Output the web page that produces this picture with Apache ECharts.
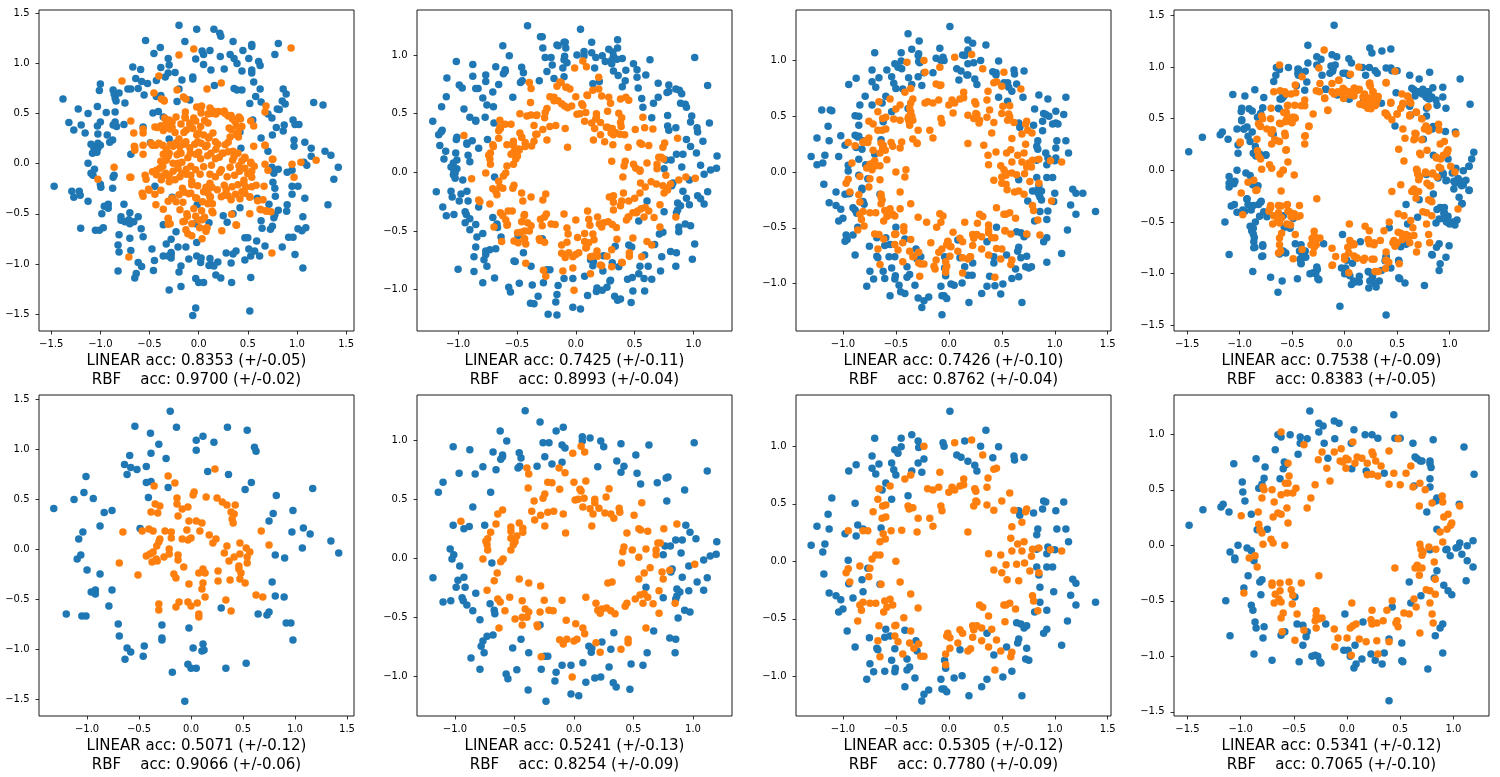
<!DOCTYPE html><html><head><meta charset="utf-8"><style>html,body{margin:0;padding:0;background:#fff}#c{width:1500px;height:777px}</style><script src="https://cdn.jsdelivr.net/npm/echarts@6/dist/echarts.min.js"></script></head><body><div id="c"></div><script>
// Bottom-row panels
const p5Blue=[[-.2,1.38],[-.54,1.23],[-.39,1.16],[-.14,1.22],[.35,1.22],[.54,1.19],[.115,1.13],[.05,1.09],[.22,1.07],[-.31,1.05],[.61,1.02],[.625,.98],[.05,.99],[-.385,.96],[-.59,.94],[-.24,.91],[-.64,.85],[-.58,.82],[-.52,.8],[-.43,.83],[-.615,.75],[.16,.78],[.36,.75],[-1.01,.73],[-.43,.67],[-.385,.68],[-.22,.62],[.58,.67],[.52,.6],[1.17,.61],[.82,.54],[-1.03,.57],[-1.125,.5],[-.94,.51],[-.41,.52],[-1.32,.41],[-.835,.37],[-.76,.39],[.98,.39],[.79,.36],[.75,.285],[-.875,.235],[-.49,.21],[-1.04,.175],[.97,.175],[1.08,.215],[1.145,.155],[-1.08,.105],[1.345,.085],[1.07,.015],[1.42,-.035],[.81,-.055],[.9,-.085],[-1.06,-.055],[-1.095,-.095],[-1,-.205],[-.875,-.245],[.78,-.325],[-.76,-.405],[-.92,-.405],[-.96,-.425],[-.92,-.445],[.81,-.465],[.895,-.475],[-.79,-.565],[.29,-.585],[-1.2,-.645],[-1.05,-.665],[-1.01,-.665],[.645,-.645],[.73,-.655],[.75,-.625],[-.7,-.745],[-.28,-.755],[.915,-.735],[.96,-.735],[-.02,-.785],[-.69,-.865],[-.28,-.885],[-.28,-.905],[.98,-.905],[-.45,-.965],[-.615,-.985],[-.58,-1.025],[-.46,-1.065],[-.635,-1.095],[.02,-.985],[.115,-.945],[.105,-1.015],[.125,-1.005],[.53,-1.135],[-.03,-1.145],[0,-1.185],[.05,-1.185],[-.18,-1.225],[.335,-1.185],[-.06,-1.515]];
const p5Orange=[[.23,.805],[-.22,.735],[-.155,.665],[-.355,.635],[.03,.575],[.02,.545],[.145,.525],[-.135,.515],[-.135,.455],[.25,.515],[.3,.475],[.345,.445],[.425,.445],[-.345,.455],[-.3,.435],[-.03,.425],[-.085,.405],[-.385,.375],[-.32,.365],[.385,.375],[.415,.355],[-.125,.335],[.395,.305],[.405,.265],[-.02,.285],[.05,.285],[.105,.265],[-.405,.205],[-.365,.185],[-.47,.185],[-.655,.175],[-.25,.185],[-.19,.175],[-.04,.195],[.085,.185],[.675,.185],[.175,.145],[-.19,.115],[-.085,.105],[0,.115],[-.03,.095],[.24,.105],[.21,.065],[-.3,.105],[-.31,.075],[-.33,.035],[.47,.065],[.75,.045],[.345,.035],[.53,.015],[-.21,.005],[.565,-.025],[.32,-.035],[-.21,-.045],[-.365,-.025],[-.395,-.045],[-.43,-.065],[-.125,-.055],[.47,-.045],[.54,-.075],[.415,-.075],[-.26,-.075],[-.335,-.095],[-.325,-.115],[-.375,-.125],[-.125,-.105],[.365,-.115],[.54,-.135],[-.69,-.135],[.46,-.165],[-.07,-.175],[.46,-.195],[.115,-.195],[.26,-.215],[.075,-.235],[.135,-.235],[.48,-.235],[-.165,-.245],[-.145,-.285],[-.51,-.255],[.47,-.295],[.375,-.305],[.26,-.315],[.115,-.335],[-.02,-.345],[.52,-.335],[.105,-.395],[.135,-.475],[.625,-.455],[.69,-.475],[.335,-.505],[-.31,-.545],[-.115,-.525],[-.145,-.575],[-.03,-.525],[0,-.565],[.06,-.535],[-.31,-.605],[.385,-.615],[.075,-.645],[.075,-.675]];
const p6Blue=[[-.41,1.25],[-.285,1.155],[-.62,1.08],[-.15,1.08],[-.09,1.11],[.07,1.03],[.07,.995],[.135,1.02],[.225,.995],[.25,.945],[-.565,.995],[-.26,.98],[-.21,.98],[-.1,.96],[-.075,.935],[.395,.97],[.63,.96],[1.01,.98],[-1.015,.945],[-.875,.92],[-.68,.9],[-.46,.895],[-.6,.875],[-.6,.86],[-.615,.84],[-.445,.85],[-.245,.86],[.52,.875],[-.1,.815],[-.185,.8],[.36,.825],[.42,.78],[.395,.73],[.2,.775],[-.31,.78],[-.455,.78],[-.47,.765],[-.765,.775],[-.655,.75],[-.965,.72],[-.83,.715],[.53,.72],[1.12,.74],[.79,.69],[.775,.68],[-1.1,.645],[.7,.64],[.56,.63],[-1.14,.56],[-.7,.56],[.93,.58],[.78,.485],[-.85,.435],[-1.015,.28],[-.75,.28],[-.925,.25],[-.88,.27],[.94,.28],[.975,.22],[1.025,.165],[1.2,.14],[.855,.155],[.91,.155],[.765,.105],[.81,.105],[.9,.045],[.75,.03],[1.195,.035],[1.145,.02],[1.09,-.015],[-1.04,.08],[-1.01,.03],[-1.025,-.005],[-.96,-.065],[-.69,-.04],[.965,-.065],[.825,-.09],[.815,-.115],[.91,-.16],[1.035,-.2],[1.12,-.165],[-1.185,-.165],[-.975,-.185],[-.925,-.16],[-.99,-.245],[-.915,-.245],[.605,-.245],[.865,-.26],[.89,-.285],[.965,-.275],[1.09,-.27],[-.825,-.295],[.865,-.32],[.855,-.345],[.75,-.335],[-.94,-.335],[-.93,-.36],[-1.1,-.37],[-1.035,-.36],[-.9,-.395],[-.705,-.385],[-.85,-.445],[-.67,-.44],[-.665,-.47],[.93,-.44],[.975,-.455],[.875,-.505],[-.79,-.52],[-.285,-.565],[-.73,-.66],[-.68,-.65],[-.765,-.7],[-.78,-.745],[-.755,-.8],[-.445,-.685],[-.515,-.76],[-.38,-.8],[-.865,-.845],[-.79,-.94],[-.57,-.98],[-.555,-1.02],[-.48,-.945],[-.275,-.94],[-.245,-.83],[-.22,-.83],[-.385,-1.115],[-.235,-1.21],[-.16,-1.04],[-.15,-.965],[-.1,-.905],[-.025,-.905],[.075,-.885],[-.025,-1.15],[.04,-1.165],[.1,-1.05],[.175,-1.015],[.225,-1.005],[.295,-.92],[.33,-1.055],[.355,-1.09],[.47,-1.11],[.48,-.895],[.58,-.905],[.615,-.8],[.31,-.77],[.235,-.71],[.335,-.63],[.125,-.745],[.15,-.76],[.145,-.795],[.67,-.615],[.805,-.675],[.855,-.685],[.85,-.8]];
const p6Orange=[[.06,.95],[-.01,.89],[.09,.9],[-.395,.765],[-.38,.715],[-.125,.765],[-.075,.725],[-.22,.645],[-.185,.64],[0,.645],[.1,.655],[-.385,.595],[-.12,.585],[.05,.585],[.06,.57],[.295,.59],[-.245,.545],[-.26,.51],[-.335,.485],[.01,.495],[.035,.5],[.085,.51],[.27,.52],[.175,.5],[.175,.47],[.57,.47],[.135,.42],[.21,.425],[.075,.435],[.38,.425],[.385,.39],[-.6,.41],[-.64,.375],[-.355,.4],[-.22,.39],[-.17,.4],[-.09,.375],[-.28,.365],[.16,.375],[.26,.385],[.31,.375],[.335,.34],[.505,.365],[-.33,.325],[-.655,.29],[-.95,.315],[-.46,.3],[-.245,.275],[.15,.275],[.865,.29],[-.53,.265],[-.43,.255],[.755,.25],[.545,.25],[.56,.24],[.62,.23],[-.53,.23],[-.43,.22],[-.7,.22],[.445,.215],[-.07,.215],[-.48,.19],[-.725,.165],[-.53,.17],[-.74,.145],[-.495,.14],[.705,.13],[.725,.13],[-.73,.115],[-.51,.115],[.42,.095],[-.53,.07],[-.725,.07],[.49,.07],[.605,.08],[.69,.07],[.41,.055],[.69,.03],[.545,.01],[-.765,-.005],[-.595,-.005],[-.615,-.03],[.4,-.04],[1.015,-.05],[.64,-.08],[-.645,-.125],[.59,-.125],[.74,-.115],[.805,-.1],[.545,-.175],[.75,-.175],[-.46,-.175],[-.67,-.19],[-.38,-.21],[.32,-.2],[.285,-.21],[-.28,-.235],[-.73,-.27],[.715,-.275],[-.54,-.33],[-.64,-.345],[-.62,-.37],[-.435,-.36],[-.25,-.355],[-.1,-.355],[.1,-.33],[.515,-.345],[.555,-.31],[.59,-.3],[.62,-.33],[.185,-.38],[.58,-.38],[.665,-.385],[.445,-.38],[.43,-.405],[.85,-.38],[-.58,-.445],[-.41,-.43],[-.38,-.455],[-.285,-.455],[-.21,-.44],[-.175,-.445],[.2,-.44],[.235,-.43],[.275,-.42],[.22,-.465],[.31,-.445],[.345,-.47],[.715,-.465],[-.495,-.515],[-.435,-.5],[-.395,-.5],[-.065,-.525],[-.435,-.565],[.015,-.555],[-.31,-.565],[-.305,-.58],[-.63,-.59],[.075,-.59],[.605,-.59],[.09,-.64],[-.12,-.69],[-.06,-.685],[-.09,-.725],[.025,-.685],[0,-.7],[.185,-.715],[.455,-.685],[.455,-.715],[.395,-.77],[.22,-.795],[-.275,-.835],[-.015,-1.005]];
const p7Blue=[[.01,1.305],[.35,1.14],[-.35,1.1],[-.7,1.07],[-.45,1.07],[-.29,1.045],[.15,1.045],[-.055,1.03],[-.045,1],[.3,1],[.47,.995],[-.285,.99],[-.45,.995],[-.51,.97],[-.48,.94],[.075,.925],[.115,.905],[-.725,.915],[.615,.915],[.71,.905],[.62,.88],[.415,.9],[-.235,.89],[.18,.87],[-.54,.855],[-.29,.855],[-.66,.845],[-.875,.84],[.245,.835],[-.725,.81],[-.52,.795],[-.945,.785],[-.35,.785],[-.255,.775],[.265,.785],[-.69,.76],[-.5,.75],[-.595,.68],[-.63,.62],[-1.105,.55],[-.385,.57],[-.54,.54],[-.885,.505],[.895,.525],[.915,.515],[1.085,.515],[.885,.455],[1.01,.44],[.66,.44],[.67,.4],[.8,.42],[-1.14,.41],[-.86,.315],[-.81,.28],[-1.245,.305],[-1.13,.28],[-.64,.29],[.84,.28],[1.02,.28],[1.105,.28],[-.98,.24],[-.875,.22],[.83,.23],[1.13,.17],[-1.3,.14],[-1.17,.15],[-1.19,.08],[.935,.125],[1,.1],[.83,.105],[.925,.065],[-.95,.01],[-.765,-.06],[.83,-.05],[.925,-.05],[.98,-.05],[.85,-.12],[-1.18,-.11],[-.82,-.16],[-.945,-.195],[-.65,-.2],[1.17,-.155],[1.2,-.19],[.86,-.225],[-.81,-.265],[.99,-.265],[-1.13,-.275],[-1.065,-.3],[-1.02,-.335],[-.905,-.32],[1.15,-.295],[.86,-.355],[1.385,-.355],[1.2,-.38],[-1,-.415],[-1.04,-.44],[.925,-.425],[.81,-.44],[1.12,-.52],[.64,-.535],[.68,-.545],[.71,-.58],[.735,-.56],[.925,-.59],[.895,-.625],[-.595,-.59],[-.415,-.6],[-.96,-.605],[.36,-.625],[-.605,-.66],[-.555,-.65],[-.75,-.665],[.66,-.675],[.65,-.71],[-.31,-.69],[.545,-.745],[1.065,-.73],[-.885,-.745],[-.68,-.755],[-.67,-.77],[-.51,-.76],[.735,-.755],[.105,-.77],[-.3,-.78],[.425,-.815],[-.54,-.86],[-.395,-.85],[-.04,-.86],[.725,-.85],[.755,-.86],[-.745,-.89],[-.03,-.93],[-.505,-.93],[-.37,-.92],[-.395,-.945],[-.71,-.96],[-.605,-.955],[-.51,-.96],[.595,-.955],[-.775,-1.025],[-.32,-1.015],[-.075,-1.025],[.05,-1.015],[.125,-.995],[.36,-1.025],[.51,-1.005],[-.415,-1.09],[.31,-1.09],[-.19,-1.12],[-.065,-1.11],[-.045,-1.11],[-.02,-1.135],[-.235,-1.155],[.19,-1.17],[.69,-1.17],[-.255,-1.215]];
const p7Orange=[[.055,1.03],[.215,1.055],[-.235,1],[.32,.925],[.425,.8],[.45,.81],[-.085,.775],[-.36,.75],[-.415,.715],[.37,.725],[.14,.715],[-.555,.655],[-.66,.63],[.14,.665],[.105,.655],[.03,.645],[.36,.645],[-.095,.645],[-.2,.63],[-.15,.62],[.245,.63],[.255,.61],[.055,.62],[0,.6],[.575,.595],[-.67,.54],[.255,.525],[.265,.515],[.235,.48],[.5,.525],[.36,.49],[-.595,.49],[-.625,.48],[-.385,.48],[-.075,.48],[-.34,.465],[-.375,.455],[.615,.445],[.425,.445],[.735,.455],[.725,.43],[-.065,.44],[-.715,.43],[-.595,.385],[-.63,.375],[-.29,.375],[-.18,.375],[.69,.34],[.595,.3],[-.15,.305],[-.95,.265],[-.81,.265],[-.765,.265],[-.545,.265],[-.445,.27],[-.3,.255],[.18,.255],[-.62,.24],[-.6,.195],[.585,.2],[-.65,.17],[.71,.17],[.65,.15],[.85,.115],[.79,.105],[.96,.1],[1.065,.09],[.595,.09],[.69,.09],[.375,.065],[.49,.055],[.78,.045],[-.69,.055],[-.65,.055],[-.725,.02],[-.5,0],[.715,-.015],[.54,-.03],[.64,-.025],[-.84,-.04],[-.745,-.06],[-.95,-.065],[-.97,-.1],[.425,-.075],[.765,-.085],[.5,-.1],[.85,-.1],[-.755,-.135],[.55,-.16],[.66,-.17],[-.935,-.18],[-.46,-.18],[-.64,-.2],[-.36,-.285],[.79,-.3],[.8,-.345],[-.555,-.33],[-.605,-.345],[-.81,-.355],[-.745,-.365],[-.69,-.365],[-.84,-.38],[-.53,-.38],[.575,-.365],[.52,-.38],[.54,-.38],[.29,-.38],[.32,-.4],[.63,-.415],[-.29,-.405],[-.825,-.425],[-.585,-.4],[-.615,-.44],[.84,-.43],[.375,-.475],[-.425,-.49],[-.86,-.52],[.53,-.525],[-.5,-.555],[-.51,-.56],[-.66,-.56],[.225,-.56],[.265,-.56],[.31,-.58],[.235,-.595],[.405,-.59],[-.36,-.605],[.105,-.595],[.13,-.625],[-.01,-.625],[-.02,-.65],[.01,-.665],[-.51,-.65],[.225,-.66],[-.67,-.69],[-.48,-.7],[.45,-.685],[.31,-.69],[.085,-.71],[-.37,-.71],[-.285,-.72],[.375,-.745],[.01,-.755],[-.33,-.755],[.205,-.76],[.18,-.78],[.49,-.78],[.595,-.79],[-.03,-.805],[-.435,-.805],[-.65,-.83],[-.265,-.825],[-.235,-.825],[.585,-.83],[-.03,-.9],[.435,-.945]];
const p8Blue=[[-.35,1.21],[.44,1.175],[-.12,1.12],[-.075,1.1],[-.265,1.1],[-.225,1.075],[-.265,1.02],[.065,1.04],[-.65,.995],[-.62,.975],[-.535,.995],[-.44,.975],[-.375,.96],[-.44,.92],[-.115,.96],[.17,.995],[.235,.995],[.29,.965],[.45,.965],[.5,.965],[.04,.92],[-.215,.92],[.62,.92],[.81,.95],[1.1,.885],[-.675,.86],[-.46,.82],[-.855,.78],[-1.065,.735],[-.77,.705],[-.59,.75],[-.575,.725],[-.18,.785],[.64,.795],[.66,.78],[.69,.76],[.705,.76],[.78,.76],[.78,.735],[.79,.7],[-.6,.69],[.045,.69],[.18,.67],[.35,.65],[1.195,.64],[-.78,.605],[-.63,.6],[.78,.6],[-.985,.57],[-.8,.55],[-.83,.515],[.63,.535],[.78,.525],[-.98,.48],[-.96,.4],[.845,.425],[.835,.4],[1.055,.37],[-1.165,.37],[-1.185,.345],[-1.355,.32],[-1.11,.3],[.75,.3],[-.9,.28],[-1.485,.18],[-.845,.14],[-.75,.145],[.845,.145],[-1.025,0],[1.185,.04],[1.06,.02],[1.045,-.015],[1.025,-.025],[1.13,-.005],[-.94,-.025],[-.9,-.05],[-1.1,-.06],[.78,-.04],[.93,-.04],[.94,-.035],[1.08,-.08],[.97,-.095],[-1.055,-.115],[-1.055,-.13],[-.875,-.14],[1.13,-.14],[1.185,-.195],[.845,-.23],[-.93,-.275],[.585,-.33],[.82,-.295],[-.8,-.31],[-.82,-.33],[1.12,-.32],[.91,-.36],[-.97,-.385],[.95,-.41],[.985,-.445],[-.81,-.445],[-.49,-.465],[.695,-.455],[-1.14,-.5],[.6,-.52],[-.9,-.54],[-.885,-.585],[.425,-.555],[-.02,-.62],[-.865,-.69],[-.47,-.71],[-.415,-.72],[.15,-.69],[-.2,-.71],[.9,-.71],[-.855,-.745],[-.78,-.735],[.875,-.745],[-.375,-.78],[-.385,-.825],[-.62,-.81],[-.585,-.78],[-1.1,-.815],[-.79,-.835],[.83,-.815],[.395,-.845],[.515,-.88],[.075,-.9],[-.415,-.9],[-.03,-.945],[.01,-.945],[-.875,-.98],[.9,-.97],[-.33,-1],[-.3,-.99],[-.275,-1],[.225,-.98],[.35,-.97],[.03,-1],[-.705,-1.035],[.14,-1.025],[.265,-1.035],[-.45,-1.05],[-.255,-1.05],[-.245,-1.06],[.515,-1.04],[.525,-1.05],[.33,-1.07],[.085,-1.07],[.065,-1.105],[.76,-1.115],[.395,-1.4]];
const p8Orange=[[-.62,1.02],[-.405,.905],[.055,.93],[.48,.96],[.395,.85],[-.235,.84],[-.12,.84],[-.055,.87],[.235,.84],[.245,.815],[.095,.795],[.14,.785],[-.065,.76],[-.01,.785],[-.27,.77],[.01,.77],[.19,.74],[.27,.76],[-.555,.74],[-.04,.75],[.075,.74],[-.01,.695],[-.19,.695],[.32,.715],[.6,.715],[.44,.65],[.555,.65],[.19,.635],[.235,.64],[.29,.625],[-.545,.625],[-.16,.58],[-.58,.56],[-.555,.56],[-.3,.545],[.395,.55],[.5,.545],[.685,.56],[.62,.525],[-.79,.525],[-.705,.5],[-.78,.5],[-.48,.515],[.735,.5],[-.51,.47],[-.565,.47],[-.62,.455],[-.8,.425],[-.34,.425],[.895,.445],[-.685,.39],[.8,.38],[.9,.39],[.68,.355],[-.565,.335],[-.375,.335],[1.06,.355],[-.835,.3],[-.65,.29],[-.62,.28],[-.695,.255],[-.995,.265],[.95,.28],[.91,.255],[-.83,.19],[-.555,.2],[.985,.2],[.975,.18],[.94,.145],[.875,.12],[-.82,.14],[-.8,.11],[-.715,.055],[-.695,.02],[-.79,.01],[-.585,0],[.9,.03],[.685,.01],[.695,-.035],[.77,-.015],[.835,-.035],[.715,-.06],[.705,-.09],[-.92,-.115],[-.865,-.095],[.82,-.15],[-.845,-.195],[.66,-.18],[.67,-.205],[.64,-.205],[.705,-.205],[.45,-.205],[.68,-.27],[-.265,-.275],[.83,-.305],[-.705,-.34],[-.705,-.36],[-.63,-.34],[-.545,-.33],[-.43,-.34],[.745,-.4],[.78,-.41],[.83,-.44],[-.97,-.43],[-.525,-.4],[-.63,-.41],[-.675,-.44],[-.51,-.45],[-.64,-.485],[-.62,-.51],[-.685,-.52],[-.515,-.53],[.045,-.52],[.425,-.5],[.63,-.485],[.78,-.52],[.65,-.555],[.235,-.585],[-.29,-.59],[.375,-.585],[-.6,-.61],[-.47,-.62],[.535,-.61],[.585,-.62],[.8,-.62],[-.62,-.655],[-.29,-.635],[-.235,-.655],[-.3,-.68],[-.265,-.665],[.225,-.67],[.34,-.68],[.47,-.68],[.235,-.71],[.28,-.7],[.46,-.7],[.81,-.7],[.48,-.735],[.085,-.71],[.055,-.725],[.03,-.745],[-.29,-.745],[-.12,-.755],[-.405,-.765],[-.61,-.78],[.685,-.79],[-.085,-.835],[0,-.835],[.115,-.845],[-.49,-.855],[.18,-.87],[.28,-.86],[.395,-.87],[-.115,-.915],[.29,-.98],[.04,-.99]];
// Points that appear only in the top-row panels
const p1BlueExtra=[[-.02,1.34],[.155,1.34],[.215,1.3],[.225,1.27],[.54,1.17],[.81,1.2],[-.455,1.1],[.035,1.125],[.32,1.09],[.36,1.05],[.45,1.13],[.775,1.09],[-.03,1.045],[.51,1.05],[.39,1],[-.3,.985],[-.67,.965],[.125,.935],[.26,.945],[.44,.925],[.54,.935],[.54,.905],[-.31,.905],[-.34,.865],[-.06,.865],[-.06,.845],[-.17,.835],[.56,.815],[-1,.795],[-.72,.745],[-.69,.745],[-.87,.735],[-.2,.745],[.39,.735],[.44,.735],[.625,.745],[.86,.745],[-.81,.705],[-.86,.695],[-.555,.685],[.89,.695],[-1.38,.645],[-.85,.655],[-.84,.625],[-.09,.635],[.635,.615],[.85,.625],[.88,.595],[1.265,.585],[-.75,.605],[-1.225,.545],[.8,.545],[-.85,.515],[-.465,.505],[.705,.495],[.745,.455],[-.36,.465],[.96,.435],[-.85,.415],[-.87,.385],[-1,.415],[-1.03,.375],[-1.195,.385],[-1.27,.335],[-1.155,.305],[-.565,.365],[.55,.435],[1.02,.39],[.87,.385],[.86,.325],[-1.025,.295],[-.93,.285],[-.905,.215],[-1.095,.195],[-1.025,.205],[-1,.185],[-1.065,.155],[-1.025,.155],[-1.035,.115],[-.69,.095],[-.3,.245],[.42,.315],[.635,.255],[.43,.155],[.705,.125],[.97,.235],[1.145,.075],[1.285,.125],[1.1,-.015],[1.375,-.155],[.95,-.065],[.745,-.035],[.755,-.075],[.765,-.095],[-1.125,.005],[-1.075,-.115],[-.86,-.115],[-.87,-.135],[-.995,-.235],[-1.47,-.225],[-1.29,-.275],[-1.215,-.275],[-1.27,-.335],[-1.205,-.315],[-1.125,-.375],[-.445,-.225],[-.27,-.335],[.755,-.185],[.775,-.245],[.95,-.225],[1.01,-.225],[.95,-.305],[1.08,-.345],[.595,-.345],[.715,-.405],[.9,-.41],[1.315,-.41],[-.015,-.41],[.42,-.44],[-.985,-.5],[-.7,-.49],[-.615,-.53],[-.79,-.53],[-.66,-.58],[-.71,-.56],[-.75,-.58],[-.7,-.6],[.25,-.52],[.35,-.5],[.105,-.59],[-.03,-.6],[-.36,-.61],[-.585,-.65],[-.97,-.64],[.635,-.57],[.765,-.54],[.775,-.51],[1.06,-.53],[1.01,-.65],[1.05,-.67],[1.09,-.64],[-.81,-.71],[-.23,-.68],[-.565,-.73],[.47,-.74],[.5,-.74],[.59,-.77],[-.33,-.8],[-.82,-.81],[-.81,-.88],[-.475,-.85],[-.13,-.83],[-.21,-.83],[.51,-.85],[.675,-.82],[.85,-.83],[.57,-.87],[.38,-.87],[.35,-.9],[.28,-.89],[.62,-.92],[.53,-.92],[-.36,-.92],[-.28,-.94],[-.31,-.92],[.47,-.96],[-.1,-.95],[-.02,-.92],[.025,-.94],[.195,-.98],[.33,-.99],[.155,-1.02],[-.18,-1.02],[1.06,-1.04],[-.82,-1.07],[-.2,-1.08],[-.65,-1.14],[.175,-1.11],[.225,-1.14],[-.3,-1.26],[-.03,-1.44],[.52,-1.47]];
const p1OrangeExtra=[[.94,1.155],[-.05,1.145],[-.2,1.085],[-.405,.875],[-.78,.825],[.085,.745],[-.455,.705],[-.38,.645],[-.35,.625],[-.13,.645],[.685,.575],[.675,.515],[-.02,.565],[.115,.555],[-.69,.425],[.26,.525],[.41,.465],[.53,.425],[.56,.375],[-.66,.305],[-.565,.305],[-.565,.345],[-.445,.365],[-.385,.375],[-.27,.415],[-.33,.425],[-.23,.465],[-.14,.465],[-.05,.455],[.095,.405],[.025,.505],[.095,.495],[.175,.495],[-.18,.395],[-.09,.395],[-.29,.345],[.145,.305],[.1,.255],[.31,.355],[.4,.305],[.32,.265],[0,.305],[-.2,.245],[.56,.175],[.675,.185],[.755,.045],[-.485,.205],[-.565,.185],[-.65,.165],[-.565,.095],[-.65,.135],[-.435,.185],[-.26,.175],[-.18,.105],[-.15,.195],[.025,.205],[.195,.195],[.3,.215],[.4,.105],[.47,.055],[.35,.125],[.25,.105],[.125,.105],[-.36,.095],[-.385,.025],[-.26,.005],[-.17,.015],[-.08,-.025],[.13,-.015],[.53,.005],[.675,-.005],[.95,-.005],[1.04,.015],[1.195,.035],[.705,-.065],[.97,-.135],[-.86,-.035],[-1.025,-.155],[-.7,-.135],[-.545,-.115],[-.535,-.155],[.015,-.105],[.215,-.085],[.115,-.105],[-.08,-.115],[-.3,-.115],[-.17,-.095],[.585,-.215],[.665,-.225],[-.505,-.265],[-.575,-.295],[-.565,-.325],[-.445,-.305],[-.385,-.265],[-.27,-.345],[-.31,-.375],[-.36,-.455],[-.435,-.41],[-.16,-.385],[-.08,-.295],[.115,-.215],[.095,-.295],[.095,-.4],[.3,-.32],[.42,-.35],[.52,-.33],[.6,-.37],[.655,-.36],[.635,-.46],[.685,-.47],[.735,-.48],[.52,-.5],[.145,-.49],[-.19,-.46],[-.31,-.55],[-.16,-.58],[-.29,-.6],[.035,-.56],[.38,-.61],[.085,-.64],[.235,-.67],[-.13,-.66],[-.11,-.7],[-.07,-.72],[.035,-.75],[.745,-.89],[-.71,-.93],[-.42,.36],[-.36,.33],[-.27,.36],[-.24,.31],[-.15,.31],[-.06,.35],[.02,.37],[.06,.43],[.13,.5],[.2,.52],[.27,.5],[.33,.48],[.37,.42],[.44,.37],[.33,.34],[.38,.29],[.27,.19],[.17,.22],[.07,.17],[-.01,.22],[-.09,.16],[-.13,.22],[-.23,.21],[-.29,.19],[-.33,.14],[-.22,.09],[-.11,.06],[.02,.05],[.09,.08],[.17,.05],[.3,.12],[.36,.07],[.44,.03],[.41,-.02],[.5,-.1],[.29,-.13],[.23,-.06],[.17,-.13],[.05,-.03],[-.03,-.06],[-.19,-.13],[-.24,-.16],[-.3,-.18],[-.38,-.16],[-.43,-.11],[-.47,-.08],[-.07,-.21],[-.01,-.22],[.05,-.28],[.12,-.33],[.19,-.26],[.28,-.26],[.34,-.23],[.4,-.21],[.54,-.23],[.44,-.28],[.33,-.36],[.23,-.33],[.14,-.4],[.04,-.38],[-.03,-.34],[-.1,-.3],[-.2,-.31],[-.23,-.38],[-.05,-.45],[.03,-.47],[-.12,-.5],[-.07,-.6],[.01,-.64]];
const p2BlueExtra=[[.04,1.22],[-.3,1.155],[.355,1.13],[-.1,1.11],[.135,1.11],[-.16,1.085],[-.085,1.06],[-.28,1.06],[.28,1.05],[.355,1.06],[.01,1],[.315,1.025],[.32,.99],[-.095,.99],[.17,.98],[.305,.955],[.35,.965],[-.2,.915],[.305,.925],[.49,.925],[.16,.89],[-.11,.89],[.425,.87],[.32,.865],[-.875,.82],[-1.095,.805],[-.765,.83],[.52,.81],[.595,.83],[.145,.755],[.7,.76],[-.99,.745],[.79,.745],[-.85,.715],[.85,.71],[.88,.7],[.9,.67],[-.705,.685],[-.79,.635],[-.535,.64],[.66,.59],[.57,.555],[-.755,.575],[.89,.59],[.94,.555],[-.95,.54],[.985,.48],[-.9,.47],[-.85,.445],[-.77,.47],[.645,.465],[-.695,.42],[.975,.43],[1.135,.42],[-1.215,.435],[-1.135,.36],[-1.145,.345],[-1.165,.32],[.78,.395],[.79,.36],[.85,.38],[1.03,.38],[1.035,.345],[-1.01,.3],[-.925,.24],[-1.155,.23],[-.825,.205],[1.08,.265],[-1.105,.18],[-1.02,.165],[-.915,.145],[-1.12,.115],[-1.01,.105],[-.9,.09],[-1.06,.045],[1.06,.06],[-1.035,.005],[-1.04,-.02],[-1.025,-.05],[-1.06,-.16],[-1.05,-.21],[-1.13,-.295],[-.94,-.43],[-.9,-.49],[-.84,-.55],[-.85,-.635],[-.865,-.72],[-.765,-.67],[-1,-.825],[-.69,-.9],[-.635,-.55],[-.49,-.54],[-.525,-.755],[-.37,-.96],[-.32,-1.055],[-.355,-1.12],[-.16,-1.215],[-.17,-1.105],[.18,-.985],[.265,-.98],[.29,-.925],[.38,-1.08],[.44,-.91],[.485,-1.01],[.535,-.865],[.585,-1.01],[.645,-.91],[.72,-.84],[.545,-.8],[.73,-.72],[.99,-.74],[1.01,-.61],[.74,-.51],[.71,-.525],[.875,-.465],[.94,-.22],[1.06,-.225],[.535,-.415],[.585,-.705],[.45,-.62],[.475,-.635],[.365,-.805],[.23,-.84]];
const p2OrangeExtra=[[.195,.81],[-.135,.77],[-.16,.735],[-.085,.725],[-.05,.71],[.145,.7],[.195,.71],[.095,.66],[.22,.65],[.28,.64],[.38,.625],[.425,.64],[.45,.615],[-.185,.61],[-.15,.61],[-.095,.565],[-.07,.55],[-.035,.565],[-.475,.5],[-.415,.48],[-.38,.49],[-.33,.49],[-.265,.465],[-.645,.445],[-.55,.41],[-.655,.355],[-.645,.385],[.17,.455],[.27,.385],[.365,.505],[.39,.465],[.585,.38],[.655,.37],[.21,.32],[.3,.335],[.32,.32],[.375,.325],[.415,.32],[-.34,.325],[-.475,.335],[-.46,.3],[-.705,.235],[-.585,.235],[-.355,.265],[-.375,.225],[.245,.26],[.315,.235],[-.55,.155],[-.485,.2],[.74,.215],[.745,.115],[.305,.095],[.51,.035],[.545,.02],[-.585,.055],[.765,-.025],[.935,-.04],[.875,-.065],[-.885,-.055],[.55,-.09],[.685,-.1],[-.655,-.075],[-.525,-.11],[-.62,-.135],[-.705,-.14],[-.68,-.16],[-.535,-.135],[-.255,-.185],[-.45,-.245],[-.825,-.235],[-.815,-.25],[.77,-.135],[.78,-.15],[.405,-.175],[.5,-.22],[.45,-.245],[.39,-.245],[.32,-.255],[.38,-.285],[.32,-.32],[.11,-.4],[0,-.405],[-.265,-.38],[.485,-.345],[.45,-.38],[.525,-.33],[-.575,-.33],[-.595,-.405],[-.44,-.37],[-.46,-.42],[-.3,-.4],[-.585,-.45],[-.695,-.465],[.12,-.45],[-.075,-.475],[-.465,-.51],[-.525,-.585],[-.49,-.6],[-.425,-.61],[-.44,-.57],[-.265,-.595],[.075,-.52],[.145,-.525],[.155,-.575],[.11,-.6],[-.075,-.595],[-.12,-.62],[.085,-.645],[.35,-.57],[.485,-.56],[.645,-.62],[.305,-.66],[.18,-.67],[.145,-.715],[.125,-.72],[.265,-.715],[-.025,-.72],[.56,-.72],[.39,-.765],[.21,-.79],[.305,-.805],[-.425,-.775],[-.11,-.84],[-.025,-.815],[.125,-.865],[-.255,-.885]];
const p3BlueExtra=[[-.385,1.24],[-.28,1.175],[.18,1.185],[.225,1.155],[-.085,1.11],[.18,1.095],[.13,1.05],[-.285,1.06],[-.12,1.02],[-.075,1],[.18,.97],[.235,.98],[-.275,.98],[-.585,.915],[.445,.89],[.445,.87],[-.15,.89],[-.445,.925],[.17,.87],[-.38,.845],[.095,.825],[.52,.8],[.555,.8],[.565,.76],[.64,.79],[.595,.725],[-.435,.745],[.47,.67],[.7,.67],[.85,.69],[.935,.655],[1.105,.67],[-.79,.68],[.555,.635],[-.84,.6],[-.725,.6],[-1.2,.555],[-1.12,.555],[.81,.565],[1.01,.545],[-.85,.5],[.945,.5],[-.62,.45],[-.85,.42],[.98,.43],[1.03,.43],[.885,.37],[-.885,.33],[-.85,.32],[-1.02,.325],[-.82,.205],[.84,.205],[1.01,.215],[-.7,.16],[-1.04,.14],[-.85,.115],[.915,.17],[1.01,.125],[-1.245,.065],[-.95,.06],[-.785,.065],[-.85,-.03],[.66,-.07],[-1.065,-.18],[-.98,-.2],[-.82,-.145],[.79,-.17],[.82,-.17],[.875,-.17],[.85,-.2],[1,-.19],[-.935,-.19],[1.265,-.19],[.875,-.25],[.745,-.26],[-.8,-.29],[-.885,-.34],[-.87,-.37],[.935,-.35],[.45,-.495],[-.5,-.495],[-.86,-.495],[-.97,-.565],[-.98,-.62],[-.905,-.565],[-.68,-.59],[.085,-.61],[-.565,-.76],[-.04,-.76],[-.265,-.76],[.68,-.77],[.425,-.76],[.15,-.85],[.225,-.815],[.63,-.87],[.78,-.85],[.925,-.81],[-.62,-.89],[.18,-.925],[.22,-.925],[.385,-.935],[.66,-.94],[-.47,-1.015],[.02,-1.005],[.435,-1.02],[-.555,-1.11],[-.455,-1.075],[.49,-1.095],[-.29,-1.13],[-.065,-1.28]];
const p3OrangeExtra=[[-.395,.985],[-.085,.94],[-.225,.895],[.52,.895],[-.12,.79],[-.075,.78],[.5,.77],[.68,.745],[-.34,.655],[-.36,.62],[-.225,.62],[-.46,.6],[-.5,.565],[-.37,.575],[-.36,.54],[-.35,.5],[-.38,.495],[-.46,.465],[-.52,.475],[.04,.53],[.18,.51],[.385,.555],[.51,.59],[.565,.52],[.575,.495],[.29,.465],[.285,.44],[.555,.465],[-.37,.42],[-.755,.455],[-.67,.375],[.745,.375],[.785,.35],[.405,.35],[-.755,.305],[-.785,.28],[-.81,.27],[-.64,.26],[-.625,.215],[-.34,.295],[-.3,.26],[.725,.25],[.33,.24],[-.53,.23],[-.46,.215],[-.715,.195],[-.885,.235],[.445,.18],[.545,.17],[.37,.15],[-.585,.11],[-.7,.1],[-.715,.08],[-.745,.07],[-.915,.08],[-.775,.035],[-.735,.035],[-.405,.02],[-.415,-.045],[.755,.08],[.735,.045],[.52,.02],[.54,-.01],[.595,-.01],[.5,-.045],[.54,-.11],[-.65,-.07],[.62,-.18],[.71,-.2],[-.85,-.205],[-.64,-.225],[-.63,-.25],[-.64,-.285],[-.84,-.27],[.97,-.26],[.45,-.32],[-.46,-.33],[-.565,-.385],[-.51,-.395],[-.21,-.45],[-.085,-.375],[-.055,-.395],[-.075,-.45],[-.115,-.495],[.15,-.45],[.27,-.46],[.375,-.52],[.375,-.545],[-.8,-.485],[-.425,-.53],[-.51,-.555],[-.7,-.555],[-.615,-.6],[.04,-.54],[.53,-.53],[.585,-.555],[.735,-.555],[.86,-.565],[-.01,-.62],[-.17,-.635],[-.435,-.635],[.02,-.67],[.435,-.59],[.5,-.69],[-.065,-.69],[-.095,-.72],[-.34,-.76],[.13,-.77],[.2,-.76],[-.12,-.79],[-.285,-.815],[-.02,-.845],[-.14,-.845],[-.13,-.87],[-.03,-.87],[.13,-.905],[-.275,-.935]];
const p4BlueExtra=[[-.1,1.405],[.24,1.185],[.26,1.135],[.355,1.155],[.04,1.08],[-.35,1.04],[-.09,1.02],[-.11,.98],[-.13,1.01],[-.14,.94],[-.445,.98],[-.445,.94],[-.655,.92],[-.015,.94],[.01,.94],[.395,.99],[.44,.99],[.31,.94],[.2,.92],[-.36,.855],[.71,.885],[-.38,.775],[-.18,.785],[.68,.75],[.745,.785],[.935,.805],[.83,.71],[.935,.71],[.775,.71],[.805,.69],[-.95,.72],[-.615,.69],[-.585,.71],[-.07,.73],[.04,.69],[.49,.75],[.62,.62],[.88,.63],[.965,.6],[-.98,.6],[-.91,.595],[-.88,.575],[-.625,.595],[-.98,.49],[-1.025,.4],[-.96,.4],[-.68,.35],[.84,.42],[.96,.375],[.48,.43],[-1.015,.245],[-1.015,.165],[-.87,.165],[-.845,.195],[-.75,.15],[.985,.11],[1.23,.175],[1.21,.11],[1.185,.04],[.935,-.025],[.965,-.1],[.89,-.075],[1.04,-.105],[1.09,-.095],[1.115,-.15],[1.155,-.095],[1.04,-.18],[1.185,-.19],[-1.1,-.125],[-1.1,-.16],[-1.045,-.105],[-.825,-.15],[.71,-.285],[1.09,-.26],[1.115,-.325],[-.93,-.28],[-1.08,-.345],[-1.025,-.405],[-.95,-.395],[-.89,-.385],[-.795,-.3],[-.74,-.45],[.945,-.415],[1.03,-.5],[1.05,-.53],[1.07,-.48],[.87,-.51],[.9,-.47],[-.585,-.44],[-.575,-.55],[-.52,-.56],[-.87,-.615],[-.865,-.75],[-.405,-.81],[-.385,-.84],[-.425,-.86],[-.78,-.83],[.835,-.82],[.995,-.73],[.965,-.84],[.585,-.715],[.535,-.74],[.395,-.83],[.385,-.875],[.515,-.87],[.02,-.87],[.91,-.905],[-.415,-.905],[.44,-.945],[-.265,-.935],[.23,-.985],[.27,-1],[-.595,-1.07],[-.635,-1.18],[.24,-1.07],[.23,-1.14],[.3,-1.13],[.575,-1.09],[-.045,-1.315],[-.85,-.5],[-.87,-.56],[-.86,-.65],[-.78,-.72],[-.77,-.4],[-.87,-.34],[-.92,-.33],[-1.05,-.33],[.88,-.38],[.95,-.47],[.97,-.5],[1,-.52],[.95,-.36],[-.56,-.8],[-.43,-.78],[-.37,-.84],[0,-1],[.05,-1.02],[.1,-1.08],[.14,-1.08],[.28,-1.09],[-.26,-.96],[-.93,.42],[-.88,.37],[-.92,.33],[-.85,.23],[-.81,.16],[.84,.8],[.8,.76],[.74,.74],[.87,.68],[.67,.72],[1.05,-.12],[1.1,-.13],[1.13,-.11]];
const p4OrangeExtra=[[-.195,1.165],[.135,1],[-.245,.99],[-.055,.875],[.24,.845],[-.47,.825],[.395,.845],[-.675,.76],[-.615,.77],[-.57,.76],[-.51,.74],[-.465,.75],[-.015,.795],[.09,.795],[-.12,.76],[.125,.775],[.27,.76],[.175,.71],[.29,.72],[-.19,.7],[.145,.64],[.185,.63],[.25,.595],[.26,.63],[.3,.64],[.44,.66],[.545,.74],[.6,.72],[.62,.67],[.63,.65],[.555,.64],[.535,.6],[-.16,.585],[-.38,.68],[-.54,.63],[-.475,.63],[-.415,.625],[-.38,.625],[-.7,.6],[.795,.615],[.62,.535],[.68,.565],[.735,.5],[.5,.545],[.385,.555],[.41,.525],[.45,.49],[-.805,.43],[-.5,.515],[-.47,.505],[-.51,.47],[-.34,.43],[.555,.4],[.775,.43],[.8,.4],[-.74,.4],[-.57,.36],[-.38,.33],[.575,.31],[.67,.36],[.67,.31],[.735,.295],[.66,.295],[-.995,.275],[-.665,.295],[-.38,.255],[.515,.205],[.785,.195],[-.56,.195],[.715,.165],[.725,.15],[.565,.09],[.87,.13],[.975,.165],[.915,.11],[-.54,.08],[-.615,-.035],[-.585,0],[-.48,-.045],[.69,0],[.84,-.025],[.915,.02],[1.01,.04],[1.05,-.015],[.775,-.025],[.88,-.065],[.535,-.14],[.785,-.125],[.81,-.15],[-.605,-.2],[-.985,-.22],[-.835,-.19],[.65,-.2],[.8,-.285],[.82,-.295],[1.08,-.375],[-.71,-.365],[-.72,-.395],[-.605,-.345],[-.55,-.335],[-.54,-.395],[-.425,-.44],[-.49,-.45],[.51,-.42],[.565,-.44],[.195,-.54],[.615,-.635],[.225,-.675],[.28,-.72],[.7,-.72],[.395,-.79],[.395,-.87],[.52,-.905],[-.7,.36],[-.55,.5],[-.61,.45],[-.5,.46],[-.82,.45],[-.69,.39],[.76,.4],[-.64,-.46],[-.6,-.46],[-.45,-.45],[-.55,-.52],[-.48,-.42],[-.28,-.65],[-.27,-.72],[-.32,-.72],[-.3,-.8],[-.31,-.66],[.05,-.68],[.09,-.72],[.04,-.8],[.09,-.83],[.12,-.85],[.19,-.85],[.26,-.86],[.5,-.7],[.55,-.67],[.61,-.65],[.62,-.7],[.66,-.63],[.51,-.6],[.39,-.95],[.42,-.89],[.32,-.98],[-.12,-.92],[0,-.86],[-.62,-.72],[-.63,-.8],[.18,.72],[.23,.7],[.27,.68],[.31,.68],[.19,.66],[.22,.6],[.04,.76],[0,.76],[-.1,.74],[-.24,.76],[.09,.72],[.05,.73]];
const panelBlue=[[...p5Blue,...p1BlueExtra],[...p6Blue,...p2BlueExtra],[...p7Blue,...p3BlueExtra],[...p8Blue,...p4BlueExtra],p5Blue,p6Blue,p7Blue,p8Blue];
const panelOrange=[[...p5Orange,...p1OrangeExtra],[...p6Orange,...p2OrangeExtra],[...p7Orange,...p3OrangeExtra],[...p8Orange,...p4OrangeExtra],p5Orange,p6Orange,p7Orange,p8Orange];
const xTicks=[[-1.5,-1,-.5,0,.5,1,1.5],[-1,-.5,0,.5,1],[-1,-.5,0,.5,1,1.5],[-1.5,-1,-.5,0,.5,1],[-1,-.5,0,.5,1,1.5],[-1,-.5,0,.5,1],[-1,-.5,0,.5,1,1.5],[-1.5,-1,-.5,0,.5,1]];
const yTicks=[[-1.5,-1,-.5,0,.5,1,1.5],[-1,-.5,0,.5,1],[-1,-.5,0,.5,1],[-1.5,-1,-.5,0,.5,1,1.5],[-1.5,-1,-.5,0,.5,1,1.5],[-1,-.5,0,.5,1],[-1,-.5,0,.5,1],[-1.5,-1,-.5,0,.5,1]];
const xRanges=[[-1.624,1.58],[-1.349,1.327],[-1.443,1.531],[-1.625,1.375],[-1.462,1.567],[-1.319,1.328],[-1.443,1.531],[-1.627,1.335]];
const yRanges=[[-1.669,1.533],[-1.352,1.384],[-1.426,1.453],[-1.555,1.552],[-1.663,1.543],[-1.336,1.384],[-1.345,1.446],[-1.538,1.354]];
const labels=["LINEAR acc: 0.8353 (+/-0.05)\nRBF    acc: 0.9700 (+/-0.02)","LINEAR acc: 0.7425 (+/-0.11)\nRBF    acc: 0.8993 (+/-0.04)","LINEAR acc: 0.7426 (+/-0.10)\nRBF    acc: 0.8762 (+/-0.04)","LINEAR acc: 0.7538 (+/-0.09)\nRBF    acc: 0.8383 (+/-0.05)","LINEAR acc: 0.5071 (+/-0.12)\nRBF    acc: 0.9066 (+/-0.06)","LINEAR acc: 0.5241 (+/-0.13)\nRBF    acc: 0.8254 (+/-0.09)","LINEAR acc: 0.5305 (+/-0.12)\nRBF    acc: 0.7780 (+/-0.09)","LINEAR acc: 0.5341 (+/-0.12)\nRBF    acc: 0.7065 (+/-0.10)"];
const lefts=[39,417,796,1174,39,417,796,1174],tops=[10,10,10,10,395,395,395,395];
const fmt=v=>(v<0?'\u2212':'')+Math.abs(v).toFixed(1);
const axis=(r,t,m,pad)=>({type:'value',min:r[0],max:r[1],scale:true,splitLine:{show:false},axisLine:{show:false,onZero:false},
 axisTick:{show:true,inside:false,length:3.5,customValues:t,lineStyle:{color:'#000',width:0.8}},
 axisLabel:{show:true,customValues:t,formatter:fmt,color:'#000',fontFamily:'DejaVu Sans',fontSize:10,margin:m,padding:pad,hideOverlap:false}});
const opt={animation:false,backgroundColor:'#fff',grid:[],xAxis:[],yAxis:[],series:[]};
labels.forEach((lab,i)=>{
 opt.grid.push({left:lefts[i],top:tops[i],width:315,height:321,show:true,borderColor:'#1a1a1a',borderWidth:1,backgroundColor:'transparent'});
 opt.xAxis.push(Object.assign(axis(xRanges[i],xTicks[i],8,0),{gridIndex:i,name:lab,nameLocation:'middle',nameGap:21,nameTextStyle:{fontFamily:'DejaVu Sans',fontSize:15,color:'#000',lineHeight:18.5,verticalAlign:'top'}}));
 opt.yAxis.push(Object.assign(axis(yRanges[i],yTicks[i],9.5,[3,0,0,0]),{gridIndex:i}));
 opt.series.push({type:'scatter',xAxisIndex:i,yAxisIndex:i,data:panelBlue[i],symbolSize:7.5,itemStyle:{color:'#1f77b4',opacity:1},silent:true,z:2,large:false});
 opt.series.push({type:'scatter',xAxisIndex:i,yAxisIndex:i,data:panelOrange[i],symbolSize:7.5,itemStyle:{color:'#ff7f0e',opacity:1},silent:true,z:3,large:false});
});
echarts.init(document.getElementById('c'),null,{renderer:'canvas'}).setOption(opt);
</script></body></html>
